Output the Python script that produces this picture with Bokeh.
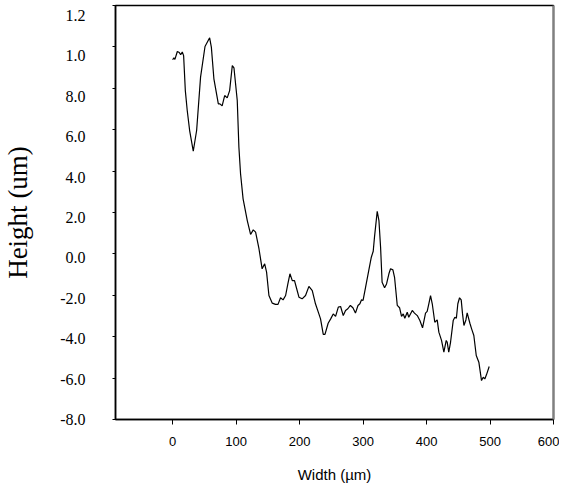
from bokeh.plotting import figure
from bokeh.models import LinearAxis, Range1d, FixedTicker, ColumnDataSource
from bokeh.embed import file_html
from bokeh.resources import INLINE

width_um = [0, 2, 3.6, 7.4, 10.5, 12.6, 15.2, 17.3, 20, 23, 26.8, 32.5, 37.8, 44, 51, 58.3, 61,
            65, 72, 74.5, 78, 82, 86, 89.8, 94, 96.6, 101.8, 104.4, 107, 111, 117.6, 122.8, 127,
            130.7, 136, 141, 145, 148, 151.7, 157, 162, 166, 170, 174, 178, 181.6, 184.8, 188.5,
            192, 194.8, 199, 204, 209.4, 214.7, 220, 225, 230.4, 233, 237.3, 240, 245, 249, 253,
            256.7, 261, 264.6, 268.8, 272.4, 276, 280, 284, 288, 292, 295, 297.6, 300, 304, 309,
            313, 316, 318, 322.3, 325, 327.6, 330, 333.9, 337, 340.7, 343.3, 347, 349.6, 353.9,
            357.5, 360.6, 363.3, 365.8, 369.6, 372, 377.5, 381, 385.4, 389.5, 393.7, 398.4, 401,
            403.6, 406.3, 409, 413, 416.8, 419.4, 423.6, 427.3, 431, 432.6, 435, 437.8, 442,
            444.6, 447, 449.3, 452, 454.6, 456.7, 458.9, 462, 464, 468.3, 471, 474.5, 478.3,
            482.4, 486.6, 489.3, 491.8, 494.5, 498.7]
height_um = [9.38, 9.47, 9.40, 9.78, 9.73, 9.62, 9.75, 9.58, 7.89, 6.93, 5.96, 4.96, 5.96, 8.54,
             10.02, 10.44, 9.99, 8.46, 7.25, 7.25, 7.15, 7.65, 7.54, 7.89, 9.10, 8.99, 7.41, 5.15,
             3.87, 2.66, 1.61, 0.94, 1.16, 1.05, 0.25, -0.72, -0.48, -0.88, -2.01, -2.38, -2.44,
             -2.44, -2.12, -2.22, -2.01, -1.44, -0.96, -1.29, -1.29, -1.61, -2.09, -2.17, -2.01,
             -1.57, -1.77, -2.41, -2.90, -3.14, -3.89, -3.89, -3.35, -3.14, -2.90, -3.02, -2.57,
             -2.54, -2.98, -2.73, -2.65, -2.49, -2.60, -2.86, -2.49, -2.41, -2.22, -2.25, -1.61,
             -0.80, -0.16, 0.13, 0.81, 2.06, 1.61, 0.32, -1.37, -1.64, -1.45, -0.96, -0.72, -0.77,
             -1.13, -2.49, -2.60, -3.02, -2.90, -3.11, -2.82, -3.06, -2.73, -2.86, -2.98, -3.22,
             -3.57, -2.86, -2.78, -2.41, -2.01, -2.41, -3.30, -3.19, -3.78, -4.18, -4.75, -4.18,
             -4.27, -4.75, -4.27, -3.22, -3.06, -3.11, -2.41, -2.12, -2.22, -2.90, -3.46, -3.19,
             -2.85, -3.35, -3.62, -3.94, -4.91, -5.23, -6.12, -5.96, -6.04, -5.83, -5.44]

x_ticks = [0, 100, 200, 300, 400, 500, 600]
y_ticks = [-8, -6, -4, -2, 0, 2, 4, 6, 8, 10, 12]
y_tick_labels = ["-8.0", "-6.0", "-4.0", "-2.0", "0.0", "2.0", "4.0", "6.0", "8.0", "1.0", "1.2"]

source = ColumnDataSource(data=dict(x=width_um, y=height_um))

p = figure(width=559, height=490, x_range=Range1d(-90, 600), y_range=Range1d(-8, 12),
           output_backend="svg", toolbar_location=None,
           min_border_left=114, min_border_right=6, min_border_top=5, min_border_bottom=71)
p.extra_y_ranges = {"lab": Range1d(-8.0, 12.5)}

p.line("x", "y", source=source, line_color="black", line_width=1.2)

p.xgrid.grid_line_color = None
p.ygrid.grid_line_color = None
p.outline_line_color = "black"
p.outline_line_width = 1.5
p.background_fill_color = "white"
p.border_fill_color = "white"

# x axis
xa = p.xaxis[0]
xa.ticker = FixedTicker(ticks=x_ticks)
xa.minor_tick_line_color = None
xa.major_tick_in = 0
xa.major_tick_out = 5
xa.axis_line_width = 1.5
xa.major_label_standoff = 12
xa.major_label_text_font = "Liberation Sans"
xa.major_label_text_font_size = "13px"
xa.major_label_text_color = "black"
xa.axis_label = "Width (µm)"
xa.axis_label_text_font = "Liberation Sans"
xa.axis_label_text_font_size = "15px"
xa.axis_label_text_font_style = "normal"
xa.axis_label_text_color = "black"
xa.axis_label_standoff = 17

# y axis: tick marks only
ya = p.yaxis[0]
ya.ticker = FixedTicker(ticks=y_ticks)
ya.minor_tick_line_color = None
ya.major_tick_in = 0
ya.major_tick_out = 3
ya.axis_line_width = 1.5
ya.major_label_overrides = {t: "" for t in y_ticks}
ya.major_label_standoff = 0

# y axis: labels (positioned as in the reference)
yl = LinearAxis(y_range_name="lab", ticker=FixedTicker(ticks=y_ticks))
yl.major_label_overrides = {t: s for t, s in zip(y_ticks, y_tick_labels)}
yl.axis_line_color = None
yl.major_tick_line_color = None
yl.minor_tick_line_color = None
yl.major_tick_in = 0
yl.major_tick_out = 0
yl.major_label_standoff = 27
yl.major_label_text_font = "Liberation Serif"
yl.major_label_text_font_size = "16px"
yl.major_label_text_color = "black"
yl.axis_label = "Height (um)"
yl.axis_label_text_font = "Liberation Serif"
yl.axis_label_text_font_size = "27px"
yl.axis_label_text_font_style = "normal"
yl.axis_label_text_color = "black"
yl.axis_label_standoff = 24
p.add_layout(yl, "left")

# right border (gray)
ra = LinearAxis(ticker=FixedTicker(ticks=[]))
ra.axis_line_color = "#808080"
ra.axis_line_width = 2
ra.major_tick_line_color = None
ra.minor_tick_line_color = None
p.add_layout(ra, "right")

open("out.html", "w").write(file_html(p, INLINE))
